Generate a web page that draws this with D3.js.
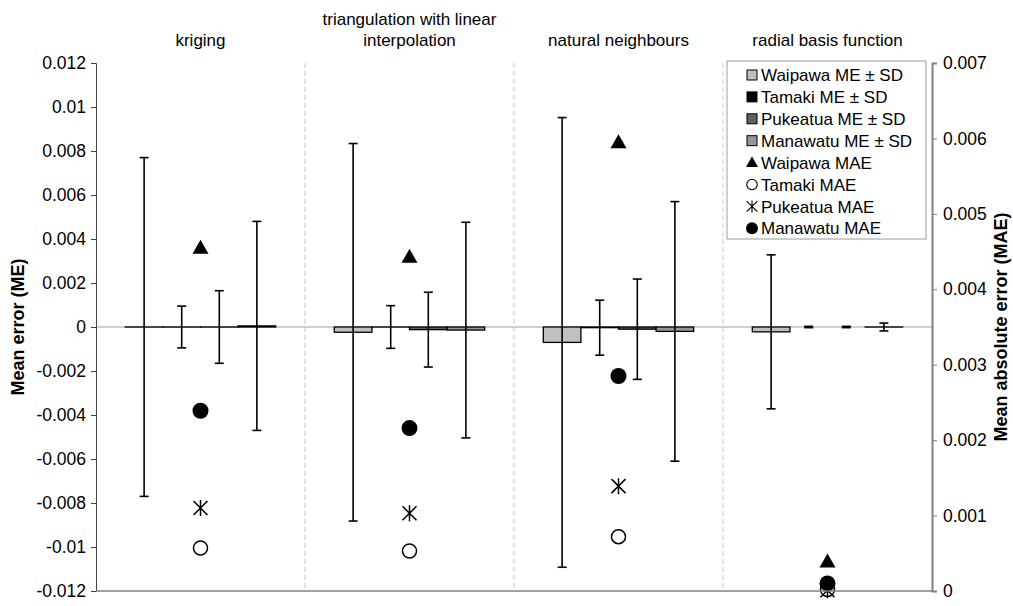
<!DOCTYPE html>
<html><head><meta charset="utf-8">
<script src="https://cdn.jsdelivr.net/npm/d3@7"></script>
<style>
body{margin:0;background:#fff;}
text{font-family:"Liberation Sans",Arial,sans-serif;}
</style></head>
<body><svg id="c" width="1013" height="606"></svg>
<script>
const categories = ["kriging", "triangulation with linear\ninterpolation", "natural neighbours", "radial basis function"];
const series = ["Waipawa", "Tamaki", "Pukeatua", "Manawatu"];
const seriesColors = ["#c0c0c0", "#000000", "#606060", "#969696"];
// Mean error (left axis) per series, one value per category (null = no bar)
const meWaipawa  = [0.0,      -0.00024, -0.00070, -0.00022];
const meTamaki   = [0.0,       0.0,     -0.00003,  null];
const mePukeatua = [0.0,      -0.00012, -0.00010,  null];
const meManawatu = [0.00005,  -0.00014, -0.00020,  0.0];
// Standard deviation (error bars)
const sdWaipawa  = [0.0077,  0.00858, 0.01022, 0.0035];
const sdTamaki   = [0.00095, 0.00097, 0.00125, 0.00003];
const sdPukeatua = [0.00165, 0.0017,  0.00228, 0.00003];
const sdManawatu = [0.00475, 0.0049,  0.0059,  0.00018];
// Mean absolute error (right axis)
const maeWaipawa  = [0.00455, 0.00443, 0.00595, 0.00039];
const maeTamaki   = [0.00057, 0.00053, 0.00072, 0.00002];
const maePukeatua = [0.00110, 0.00103, 0.00139, 0.00001];
const maeManawatu = [0.00239, 0.00216, 0.00285, 0.00010];
const leftTicks = [-0.012,-0.01,-0.008,-0.006,-0.004,-0.002,0,0.002,0.004,0.006,0.008,0.01,0.012];
const rightTicks = [0,0.001,0.002,0.003,0.004,0.005,0.006,0.007];
const legendLabels = ["Waipawa ME ± SD","Tamaki ME ± SD","Pukeatua ME ± SD","Manawatu ME ± SD","Waipawa MAE","Tamaki MAE","Pukeatua MAE","Manawatu MAE"];

const meAll = [meWaipawa, meTamaki, mePukeatua, meManawatu];
const sdAll = [sdWaipawa, sdTamaki, sdPukeatua, sdManawatu];
const maeAll = [maeWaipawa, maeTamaki, maePukeatua, maeManawatu];
const maeSymbols = ["triangle","open","asterisk","filled"];

const L = 96, R = 932, T = 63, B = 591;
const svg = d3.select("#c");
const x0 = d3.scaleBand().domain(categories).range([L, R]);
const x1 = d3.scaleBand().domain(series).range([0, x0.bandwidth()]).paddingOuter(0.78);
const yL = d3.scaleLinear().domain([-0.012, 0.012]).range([B, T]);
const yR = d3.scaleLinear().domain([0, 0.007]).range([B, T]);
const fmt = d => String(+d.toFixed(3));

// separators
svg.append("g").selectAll("line").data(categories.slice(1)).join("line")
  .attr("x1", d => x0(d)).attr("x2", d => x0(d)).attr("y1", T).attr("y2", B)
  .attr("stroke", "#c8c8c8").attr("stroke-dasharray", "5,3").attr("stroke-width", 1);

// zero line
svg.append("line").attr("x1", L).attr("x2", R).attr("y1", yL(0)).attr("y2", yL(0))
  .attr("stroke", "#a0a0a0").attr("stroke-width", 1);

// bars
series.forEach((s, si) => {
  const g = svg.append("g");
  categories.forEach((c, ci) => {
    const v = meAll[si][ci];
    const bx = x0(c) + x1(s);
    if (v !== null) {
      const y0 = yL(0), y1 = yL(v);
      g.append("rect").attr("x", bx).attr("width", x1.bandwidth())
        .attr("y", Math.min(y0, y1)).attr("height", Math.max(Math.abs(y1 - y0), 0.01))
        .attr("fill", seriesColors[si]).attr("stroke", "#000").attr("stroke-width", 1.3);
    }
    const m = v === null ? 0 : v, sd = sdAll[si][ci];
    const cx = bx + x1.bandwidth() / 2;
    const yt = yL(m + sd), yb = yL(m - sd);
    g.append("line").attr("x1", cx).attr("x2", cx).attr("y1", yt).attr("y2", yb).attr("stroke", "#000").attr("stroke-width", 1.6);
    [yt, yb].forEach(yy => g.append("line").attr("x1", cx - 4.5).attr("x2", cx + 4.5).attr("y1", yy).attr("y2", yy).attr("stroke", "#000").attr("stroke-width", 1.6));
  });
});

// marker drawing
function drawMarker(g, type, cx, cy) {
  if (type === "triangle") {
    g.append("path").attr("d", `M${cx},${cy-8}L${cx+8},${cy+6}L${cx-8},${cy+6}Z`).attr("fill", "#000");
  } else if (type === "open") {
    g.append("circle").attr("cx", cx).attr("cy", cy).attr("r", 7).attr("fill", "#fff").attr("stroke", "#000").attr("stroke-width", 1.5);
  } else if (type === "filled") {
    g.append("circle").attr("cx", cx).attr("cy", cy).attr("r", 8).attr("fill", "#000");
  } else {
    g.append("path").attr("d", `M${cx},${cy-8}V${cy+8}M${cx-7},${cy-7}L${cx+7},${cy+7}M${cx+7},${cy-7}L${cx-7},${cy+7}`)
      .attr("stroke", "#000").attr("stroke-width", 1.5).attr("fill", "none");
  }
}
const mg = svg.append("g");
series.forEach((s, si) => {
  categories.forEach((c, ci) => {
    drawMarker(mg, maeSymbols[si], x0(c) + x0.bandwidth() / 2, yR(maeAll[si][ci]));
  });
});

// axes
const axL = svg.append("g").attr("transform", `translate(${L},0)`)
  .call(d3.axisLeft(yL).tickValues(leftTicks).tickFormat(fmt).tickSize(5).tickSizeOuter(5));
axL.selectAll("path,line").attr("stroke", "#444");
axL.selectAll("text").attr("font-size", 17.5).attr("fill", "#000").attr("x", -10).style("font-family", "Liberation Sans, Arial, sans-serif");
const axR = svg.append("g").attr("transform", `translate(${R},0)`)
  .call(d3.axisRight(yR).tickValues(rightTicks).tickFormat(fmt).tickSize(5).tickSizeOuter(5));
axR.selectAll("path").attr("stroke", "#808080").attr("stroke-width", 2);
axR.selectAll("line").attr("stroke", "#808080");
axR.selectAll("text").attr("font-size", 17.5).attr("fill", "#000").attr("x", 11).style("font-family", "Liberation Sans, Arial, sans-serif");
svg.append("line").attr("x1", L).attr("x2", R).attr("y1", B).attr("y2", B).attr("stroke", "#808080").attr("stroke-width", 1.5);

// axis titles
svg.append("text").attr("transform", `translate(24,${(T+B)/2}) rotate(-90)`).attr("text-anchor", "middle")
  .attr("font-size", 18).attr("font-weight", "bold").text("Mean error (ME)");
svg.append("text").attr("transform", `translate(1007,${(T+B)/2}) rotate(-90)`).attr("text-anchor", "middle")
  .attr("font-size", 18).attr("font-weight", "bold").text("Mean absolute error (MAE)");

// category labels
categories.forEach(c => {
  const lines = c.split("\n");
  const t = svg.append("text").attr("text-anchor", "middle").attr("font-size", 17).attr("fill", "#000");
  lines.forEach((ln, i) => {
    t.append("tspan").attr("x", x0(c) + x0.bandwidth() / 2).attr("y", 46 - (lines.length - 1 - i) * 21).text(ln);
  });
});

// legend
const lg = svg.append("g");
lg.append("rect").attr("x", 727).attr("y", 61).attr("width", 199).attr("height", 178).attr("fill", "#fff").attr("stroke", "#999").attr("stroke-width", 1);
legendLabels.forEach((lab, i) => {
  const cy = 75 + i * 21.9;
  if (i < 4) {
    lg.append("rect").attr("x", 747).attr("y", cy - 5).attr("width", 10).attr("height", 10)
      .attr("fill", seriesColors[i]).attr("stroke", "#000").attr("stroke-width", 1);
  } else {
    const g = lg.append("g").attr("transform", `translate(${752},${cy}) scale(0.75) translate(${-752},${-cy})`);
    drawMarker(g, maeSymbols[i - 4], 752, cy);
  }
  lg.append("text").attr("x", 761).attr("y", cy).attr("dy", "0.36em").attr("font-size", 17).text(lab);
});
</script></body></html>
